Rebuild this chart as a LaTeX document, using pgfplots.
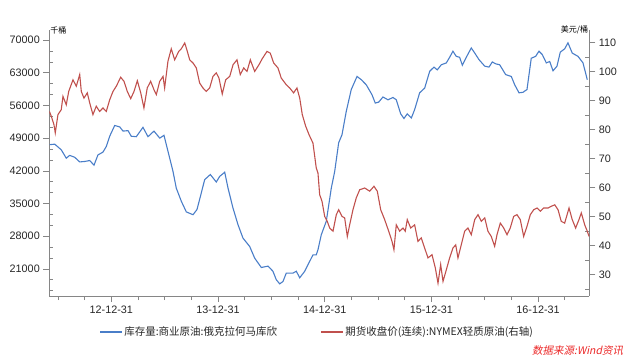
\documentclass[border=0pt]{standalone}
\usepackage{pgfplots}
\usepackage{pgfplotstable}
\pgfplotsset{compat=1.18}
\usepackage{fontspec}
\setmainfont{Liberation Sans}
\newfontfamily\cjk{Noto Sans CJK SC}
\newfontfamily\cjkit{Noto Sans CJK SC}[FakeSlant=0.2]
\definecolor{blueline}{RGB}{74,126,200}
\definecolor{redline}{RGB}{192,80,77}
\definecolor{axisgray}{RGB}{134,134,134}
\definecolor{ticktext}{RGB}{38,38,38}
\definecolor{srcred}{RGB}{235,40,40}

% Cushing inventory (thousand barrels); x = years after 2012-12-31
\pgfplotstableread{
x y
-0.577 47600
-0.530 47700
-0.469 46500
-0.422 44700
-0.390 45300
-0.343 44900
-0.296 43900
-0.249 44000
-0.202 44200
-0.162 43200
-0.125 45400
-0.078 46000
-0.047 47200
-0.015 49400
0.032 51700
0.079 51400
0.110 50500
0.157 50600
0.187 49400
0.234 49300
0.297 51300
0.344 49300
0.400 50500
0.454 49000
0.494 49600
0.531 46200
0.578 41900
0.609 38300
0.656 35500
0.703 33200
0.766 32600
0.803 33700
0.843 37200
0.875 40100
0.928 41200
0.984 39600
1.016 40800
1.063 41700
1.094 38300
1.141 34000
1.187 30500
1.234 27600
1.297 25800
1.344 23300
1.406 21300
1.469 21600
1.515 20500
1.546 18700
1.578 17800
1.609 18300
1.640 20100
1.703 20100
1.734 20500
1.766 19100
1.813 20500
1.859 22600
1.890 24000
1.921 24000
1.937 25100
1.968 28300
2.015 31200
2.062 38300
2.094 41900
2.131 48000
2.162 49700
2.202 54700
2.249 59400
2.303 62200
2.343 61500
2.390 60400
2.443 58300
2.474 56500
2.506 56700
2.546 57800
2.593 57200
2.640 57700
2.671 57200
2.712 54200
2.743 53200
2.774 54200
2.812 53300
2.843 55100
2.890 58700
2.937 59700
2.984 63300
3.024 64200
3.055 63600
3.093 64700
3.140 65100
3.171 66300
3.202 67600
3.233 66500
3.265 66300
3.290 64600
3.327 66300
3.374 68300
3.415 66900
3.446 65800
3.500 64400
3.540 64200
3.571 65300
3.603 64900
3.640 64700
3.696 62600
3.749 62200
3.781 60400
3.821 58700
3.858 58800
3.896 59400
3.936 66100
3.977 66500
4.008 67600
4.039 66900
4.077 65100
4.109 65400
4.140 63400
4.177 64400
4.208 67400
4.249 68100
4.280 69400
4.320 67200
4.374 66500
4.421 65100
4.461 61500
}\invtable

% NYMEX WTI continuous futures close (USD/bbl)
\pgfplotstableread{
x y
-0.580 86.3
-0.562 84.6
-0.537 81.7
-0.525 78.9
-0.500 85.2
-0.469 86.9
-0.453 91.5
-0.422 88.6
-0.399 93.2
-0.359 97.2
-0.328 95.0
-0.296 99.0
-0.281 93.2
-0.256 90.9
-0.225 92.7
-0.202 89.2
-0.172 85.2
-0.141 88.1
-0.109 86.3
-0.078 87.5
-0.047 86.3
-0.015 90.3
0.016 93.2
0.047 95.0
0.088 98.1
0.119 96.7
0.150 93.2
0.182 90.7
0.213 93.2
0.244 96.9
0.276 92.7
0.306 87.5
0.337 94.4
0.369 96.7
0.400 93.8
0.422 92.1
0.454 96.7
0.485 98.4
0.500 94.4
0.531 103.6
0.562 107.9
0.594 104.1
0.632 107.0
0.656 107.9
0.688 109.9
0.703 108.2
0.735 104.1
0.766 103.0
0.797 101.3
0.828 96.1
0.859 94.4
0.890 93.2
0.922 94.4
0.953 98.4
0.984 99.6
1.009 97.8
1.040 92.3
1.072 97.2
1.110 98.4
1.141 102.4
1.178 104.1
1.209 99.0
1.241 101.3
1.272 100.1
1.303 104.1
1.344 100.1
1.384 102.4
1.415 104.5
1.459 107.0
1.490 106.4
1.522 103.0
1.562 101.3
1.593 97.8
1.640 95.5
1.672 94.4
1.709 92.7
1.740 94.4
1.766 90.9
1.790 85.2
1.822 81.2
1.853 78.3
1.890 75.4
1.921 66.8
1.937 65.1
1.953 57.6
1.975 55.3
2.000 50.1
2.024 48.4
2.047 46.1
2.078 45.0
2.109 50.7
2.131 52.4
2.162 50.1
2.187 49.6
2.212 43.2
2.234 47.2
2.265 52.4
2.296 56.5
2.328 59.3
2.375 59.9
2.422 58.8
2.462 60.5
2.493 58.8
2.525 52.4
2.562 49.0
2.600 45.0
2.631 41.5
2.649 38.6
2.671 47.2
2.703 45.0
2.734 46.1
2.755 45.0
2.774 49.0
2.806 46.1
2.843 47.2
2.874 41.5
2.905 42.7
2.937 39.2
2.968 35.8
3.006 36.9
3.037 32.3
3.062 27.1
3.087 33.5
3.109 27.7
3.140 31.7
3.171 35.8
3.202 39.2
3.228 40.3
3.249 35.8
3.280 40.3
3.312 45.0
3.343 46.1
3.374 43.8
3.406 49.0
3.437 50.7
3.468 48.4
3.500 49.6
3.530 45.0
3.561 43.2
3.593 39.8
3.615 43.8
3.646 47.8
3.678 46.1
3.709 43.8
3.739 46.1
3.771 50.1
3.802 50.7
3.833 49.0
3.865 43.2
3.896 46.7
3.927 50.7
3.959 52.4
3.990 53.0
4.021 51.9
4.052 53.0
4.093 53.0
4.124 53.6
4.156 54.1
4.187 52.4
4.217 48.4
4.249 47.8
4.290 53.0
4.320 49.0
4.352 46.1
4.383 49.0
4.405 51.3
4.437 47.2
4.461 45.0
4.478 43.2
}\wtitable

\begin{document}
\begin{tikzpicture}
\useasboundingbox (-49.3pt,-64pt) rectangle (590.7pt,296pt);
\pgfplotsset{
  base/.style={
    at={(0pt,0pt)}, anchor=south west, scale only axis,
    width=540pt, height=266pt,
    xmin=-0.581, xmax=4.480,
    axis line style={axisgray, line width=0.8pt, -},
    tick style={axisgray, line width=0.6pt},
    major tick length=6pt, minor tick length=4pt,
    tick align=outside,
    tick label style={font=\fontsize{10.8}{12}\selectfont, text=ticktext},
    /pgf/number format/assume math mode=true,
    scaled ticks=false,
  }
}
\begin{axis}[base,
  axis x line*=bottom, axis y line*=left,
  xtick={0,1,2,3,4},
  xticklabels={12-12-31,13-12-31,14-12-31,15-12-31,16-12-31},
  minor xtick={-0.5,-0.25,0.25,0.5,0.75,1.25,1.5,1.75,2.25,2.5,2.75,3.25,3.5,3.75,4.25},
  ymin=15198, ymax=72141,
  ytick={21000,28000,35000,42000,49000,56000,63000,70000},
  minor ytick={16333,18667,23333,25667,30333,32667,37333,39667,44333,46667,51333,53667,58333,60667,65333,67667},
  yticklabel style={/pgf/number format/1000 sep={}},
  every minor y tick/.append style={xshift=4pt},
  legend columns=2,
  legend cell align=left,
  legend style={at={(0.0926,-0.135)}, anchor=west, draw=none, fill=none,
    inner sep=0pt, font=\cjk\fontsize{10.5}{12}\selectfont, text=ticktext,
    /tikz/every even column/.append style={column sep=42pt},
    nodes={inner sep=1.5pt}},
  legend image code/.code={\draw[#1,line width=1.3pt] (0pt,0pt) -- (22pt,0pt);},
]
\addplot[blueline, line width=1.1pt] table[x=x,y=y]{\invtable};
\addlegendentry{库存量:商业原油:俄克拉何马库欣}
\addlegendimage{draw=redline}
\addlegendentry{期货收盘价(连续):NYMEX轻质原油(右轴)}
\end{axis}
\begin{axis}[base,
  axis x line=none, axis y line*=right,
  ymin=22.66, ymax=114.38,
  ytick={30,40,50,60,70,80,90,100,110},
  minor ytick={25,35,45,55,65,75,85,95,105},
  every minor y tick/.append style={xshift=-4pt},
]
\addplot[redline, line width=1.1pt] table[x=x,y=y]{\wtitable};
\end{axis}
\node[anchor=west, font=\cjk\fontsize{8}{9}\selectfont, text=black, inner sep=0pt] at (0.8pt,266pt) {千桶};
\node[anchor=east, font=\cjk\fontsize{8}{9}\selectfont, text=black, inner sep=0pt] at (539pt,266pt) {美元/桶};
\node[anchor=east, font=\cjkit\fontsize{10.5}{12}\selectfont, text=srcred, inner sep=0pt] at (574pt,-54.7pt) {数据来源:Wind资讯};
\end{tikzpicture}
\end{document}
